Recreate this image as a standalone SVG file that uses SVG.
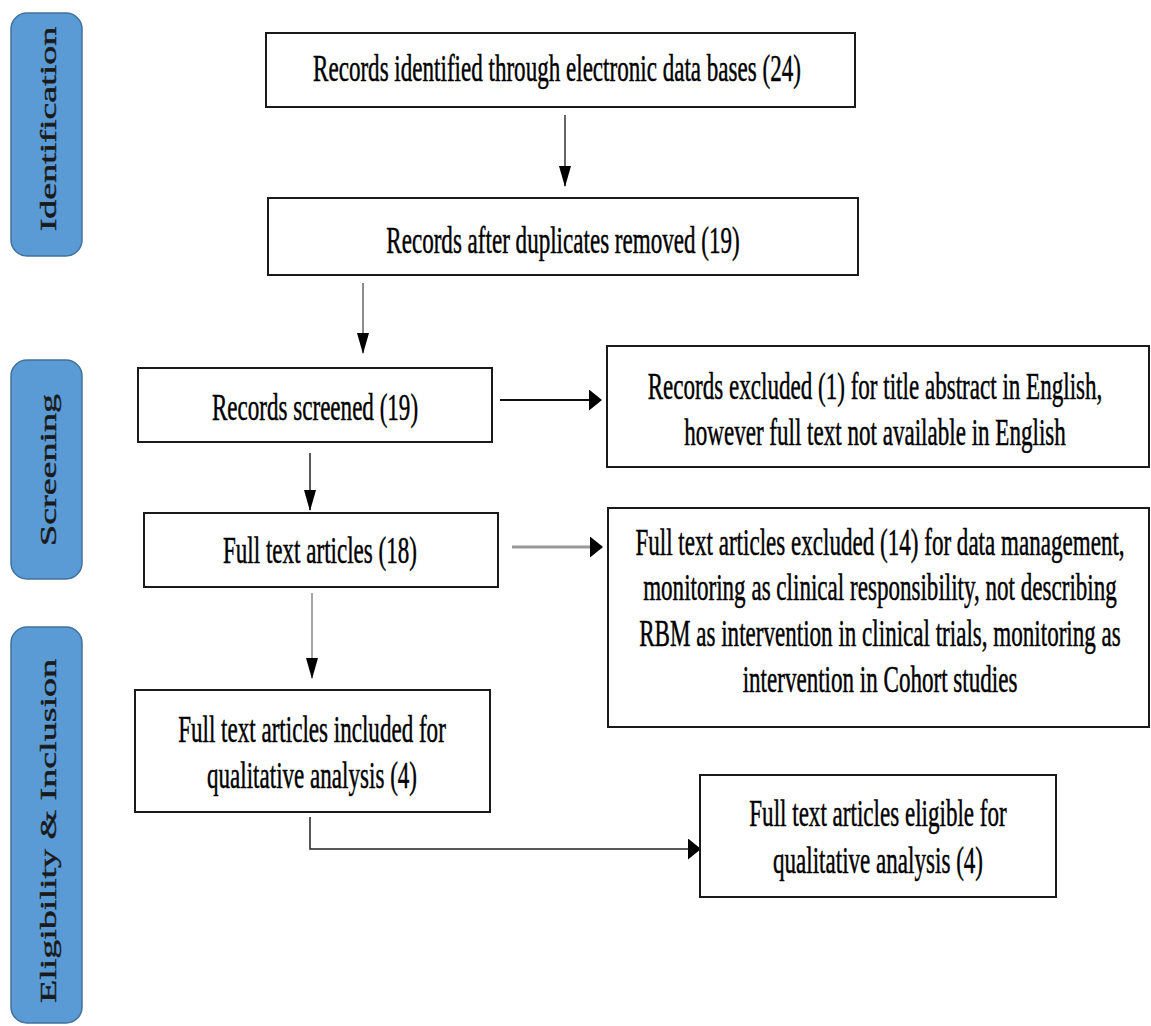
<svg xmlns="http://www.w3.org/2000/svg" width="1151" height="1026" viewBox="0 0 1151 1026">
<style>
.bg{fill:#ffffff}
.box{fill:#ffffff;stroke:#1a1a1a;stroke-width:2}
.side{fill:#5B9BD5;stroke:#41719C;stroke-width:1.5}
.t{font-family:"Liberation Serif","Times New Roman",serif;font-size:38px;fill:#000;stroke:#000;stroke-width:0.5;text-anchor:middle}
.s{font-family:"Liberation Serif","Times New Roman",serif;font-size:38px;fill:#1a1a1a;stroke:#1a1a1a;stroke-width:0.7;text-anchor:middle}
.ln{fill:none;stroke-width:1.5}
</style>
<defs>
<marker id="mv" markerWidth="21" markerHeight="12" refX="20" refY="6" orient="auto" markerUnits="userSpaceOnUse">
<path d="M0,0 L21,6 L0,12 z" fill="#000"/>
</marker>
<marker id="mh" markerWidth="13" markerHeight="21" refX="12" refY="10.5" orient="auto" markerUnits="userSpaceOnUse">
<path d="M0,0 L13,10.5 L0,21 z" fill="#000"/>
</marker>
</defs>
<rect class="bg" x="0" y="0" width="1151" height="1026"/>

<g id="phase-identification">
<rect class="side" x="11" y="13" width="71" height="243" rx="16"/>
<text class="s" transform="translate(56 129) scale(0.607 1) rotate(-90)">Identification</text>
</g>
<g id="phase-screening">
<rect class="side" x="11" y="360" width="71" height="219" rx="16"/>
<text class="s" transform="translate(56 470) scale(0.607 1) rotate(-90)">Screening</text>
</g>
<g id="phase-eligibility">
<rect class="side" x="11" y="627" width="71" height="396" rx="16"/>
<text class="s" transform="translate(56 831) scale(0.607 1) rotate(-90)">Eligibility &amp; Inclusion</text>
</g>

<g id="connectors">
<line class="ln" x1="565" y1="115" x2="565" y2="186" stroke="#333" marker-end="url(#mv)"/>
<line class="ln" x1="363" y1="283" x2="363" y2="353" stroke="#666" marker-end="url(#mv)"/>
<line x1="500" y1="400" x2="601" y2="400" stroke="#111" stroke-width="2" marker-end="url(#mh)"/>
<line class="ln" x1="310" y1="453" x2="310" y2="510" stroke="#222" marker-end="url(#mv)"/>
<line x1="512" y1="547" x2="602" y2="547" stroke="#9a9a9a" stroke-width="3" marker-end="url(#mh)"/>
<line class="ln" x1="312" y1="593" x2="312" y2="678" stroke="#888" marker-end="url(#mv)"/>
<path class="ln" d="M310,817 V849 H700" stroke="#222" marker-end="url(#mh)"/>
</g>

<g id="n1">
<rect class="box" x="266" y="33" width="589" height="74"/>
<text class="t" transform="translate(557 81) scale(0.607 1)">Records identified through electronic data bases (24)</text>
</g>
<g id="n2">
<rect class="box" x="268" y="198" width="590" height="77"/>
<text class="t" transform="translate(563 253) scale(0.607 1)">Records after duplicates removed (19)</text>
</g>
<g id="n3">
<rect class="box" x="138" y="368" width="354" height="74"/>
<text class="t" transform="translate(315 420) scale(0.607 1)">Records screened (19)</text>
</g>
<g id="n4">
<rect class="box" x="607" y="346" width="542" height="121"/>
<text class="t" transform="translate(875 399) scale(0.607 1)">Records excluded (1) for title abstract in English,</text>
<text class="t" transform="translate(875 445) scale(0.607 1)">however full text not available in English</text>
</g>
<g id="n5">
<rect class="box" x="144" y="513" width="354" height="74"/>
<text class="t" transform="translate(320 563) scale(0.607 1)">Full text articles (18)</text>
</g>
<g id="n6">
<rect class="box" x="608" y="508" width="541" height="219"/>
<text class="t" transform="translate(880 555) scale(0.607 1)">Full text articles excluded (14) for data management,</text>
<text class="t" transform="translate(880 600) scale(0.607 1)">monitoring as clinical responsibility, not describing</text>
<text class="t" transform="translate(880 646) scale(0.607 1)">RBM as intervention in clinical trials, monitoring as</text>
<text class="t" transform="translate(880 692) scale(0.607 1)">intervention in Cohort studies</text>
</g>
<g id="n7">
<rect class="box" x="135" y="690" width="355" height="122"/>
<text class="t" transform="translate(312 742) scale(0.607 1)">Full text articles included for</text>
<text class="t" transform="translate(312 788) scale(0.607 1)">qualitative analysis (4)</text>
</g>
<g id="n8">
<rect class="box" x="700" y="775" width="356" height="122"/>
<text class="t" transform="translate(878 826) scale(0.607 1)">Full text articles eligible for</text>
<text class="t" transform="translate(878 873) scale(0.607 1)">qualitative analysis (4)</text>
</g>
</svg>
